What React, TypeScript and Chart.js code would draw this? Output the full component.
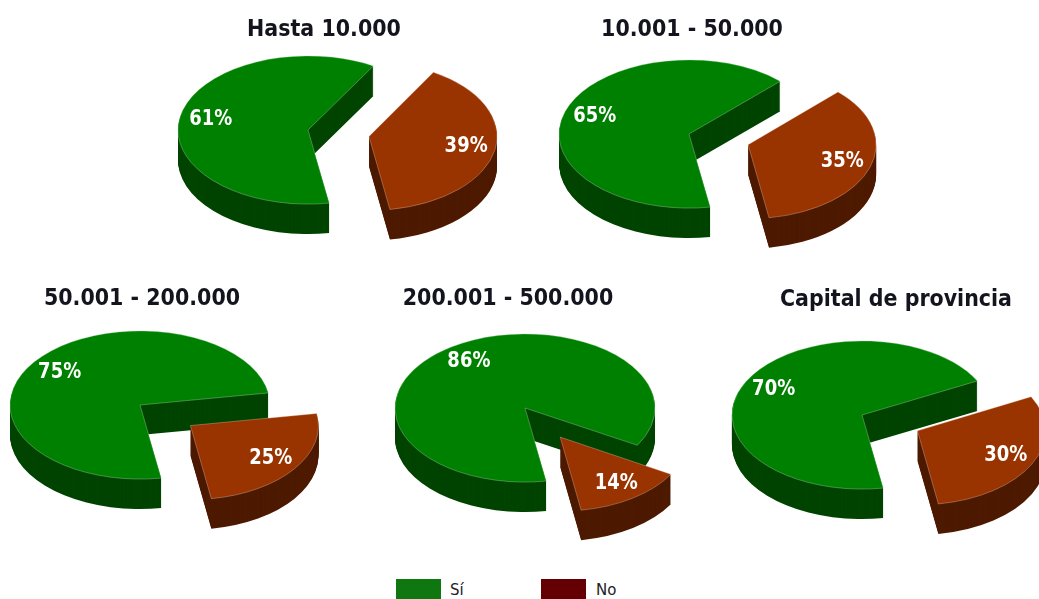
import React, { useEffect, useRef } from "react";
import { Chart, registerables } from "chart.js";

Chart.register(...registerables);

// ---- data ----
const categories = ["Sí", "No"];
const titles = ["Hasta 10.000", "10.001 - 50.000", "50.001 - 200.000", "200.001 - 500.000", "Capital de provincia"];
const siValues = [61, 65, 75, 86, 70];
const noValues = [39, 35, 25, 14, 30];

// ---- styling and layout ----
const W = 460;
const H = 320;
const RADIUS = 130;
const SQUASH = 0.57;
const DEPTH = 30;
const EXPLODE = [0, 62];
const WIDTH_SCALE = [1, 0.985];
const ROTATION = 170.6;
const LABEL_RATIO = 0.76;
const TEXT_STRETCH = 1.14;
const topColors = ["#008000", "#993300"];
const sideColors = ["#004400", "#4d1a00"];
const rimColors = ["rgba(190,225,190,0.55)", "rgba(240,210,190,0.55)"];
const legendColors = ["#0f770f", "#640003"];
const centers = [[308, 130], [689, 134], [140, 405], [525, 408], [862, 415]];
const titleCenters = [[324, 30], [692, 30], [142, 299], [508, 299], [896, 300]];
const legendLayout = [{ swatch: 396, text: 450 }, { swatch: 541, text: 596 }];

function stretchedText(ctx: any, text: string, x: number, y: number) {
  ctx.save();
  ctx.translate(x, y);
  ctx.scale(1, TEXT_STRETCH);
  ctx.fillText(text, 0, 0);
  ctx.restore();
}

const pie3d = {
  id: "pie3d",
  beforeDatasetDraw(chart: any, args: any, opts: any) {
    const ctx = chart.ctx;
    const arcs = args.meta.data;
    const cx = (chart.chartArea.left + chart.chartArea.right) / 2;
    const cy = (chart.chartArea.top + chart.chartArea.bottom) / 2;
    arcs.forEach((arc: any, i: number) => {
      const mid = (arc.startAngle + arc.endAngle) / 2;
      const squashed = (dy: number, fn: () => void) => {
        ctx.save();
        ctx.translate(cx + Math.cos(mid) * EXPLODE[i], cy + dy + Math.sin(mid) * EXPLODE[i] * SQUASH);
        ctx.scale(WIDTH_SCALE[i], SQUASH);
        ctx.translate(-cx, -cy);
        fn();
        ctx.restore();
      };
      const original = arc.options;
      arc.options = { ...original, backgroundColor: sideColors[i], borderWidth: 0 };
      for (let d = DEPTH; d >= 1; d--) squashed(d, () => arc.draw(ctx));
      arc.options = original;
      squashed(0, () => arc.draw(ctx));
    });
    // value labels
    ctx.save();
    ctx.fillStyle = "#ffffff";
    ctx.font = 'bold 18px "DejaVu Sans"';
    ctx.textAlign = "center";
    ctx.textBaseline = "middle";
    arcs.forEach((arc: any, i: number) => {
      const mid = (arc.startAngle + arc.endAngle) / 2;
      const r = RADIUS * LABEL_RATIO + EXPLODE[i];
      const x = arc.x + Math.cos(mid) * r;
      const y = arc.y + Math.sin(mid) * r * SQUASH;
      stretchedText(ctx, chart.data.datasets[0].data[i] + "%", x, y);
    });
    ctx.restore();
    // title
    ctx.save();
    ctx.fillStyle = "#14141e";
    ctx.font = 'bold 20.6px "DejaVu Sans"';
    ctx.textAlign = "center";
    ctx.textBaseline = "middle";
    stretchedText(ctx, opts.text, opts.x, opts.y);
    ctx.restore();
    return false;
  },
};

function Pie({ index }: { index: number }) {
  const ref = useRef<HTMLCanvasElement>(null);
  const [cx, cy] = centers[index];
  const [tx, ty] = titleCenters[index];
  const left = cx - W / 2;
  const top = cy - H / 2;
  useEffect(() => {
    const chart = new Chart(ref.current as HTMLCanvasElement, {
      type: "pie",
      data: {
        labels: categories,
        datasets: [
          {
            data: [siValues[index], noValues[index]],
            backgroundColor: topColors,
            borderColor: rimColors,
            borderWidth: 0.8,
            radius: RADIUS,
            clip: false,
          } as any,
        ],
      },
      options: {
        responsive: false,
        animation: false,
        events: [],
        rotation: ROTATION,
        layout: { padding: 0 },
        plugins: {
          legend: { display: false },
          tooltip: { enabled: false },
          title: { display: false },
          pie3d: { text: titles[index], x: tx - left, y: ty - top },
        } as any,
      },
      plugins: [pie3d],
    });
    return () => chart.destroy();
  }, []);
  return (
    <canvas
      ref={ref}
      width={W}
      height={H}
      style={{ position: "absolute", left, top, width: W, height: H }}
    />
  );
}

export default function App() {
  return (
    <div
      style={{
        position: "fixed",
        left: 0,
        top: 0,
        width: 1039,
        height: 599,
        overflow: "hidden",
        background: "#fff",
        filter: "blur(0.5px)",
      }}
    >
      {titles.map((_, i) => (
        <Pie key={i} index={i} />
      ))}
      {categories.map((c, i) => (
        <React.Fragment key={c}>
          <div
            style={{
              position: "absolute",
              left: legendLayout[i].swatch,
              top: 579,
              width: 45,
              height: 20,
              background: legendColors[i],
            }}
          />
          <div
            style={{
              position: "absolute",
              left: legendLayout[i].text,
              top: 579,
              font: '15px/22px "DejaVu Sans"',
              color: "#222",
            }}
          >
            {c}
          </div>
        </React.Fragment>
      ))}
    </div>
  );
}
